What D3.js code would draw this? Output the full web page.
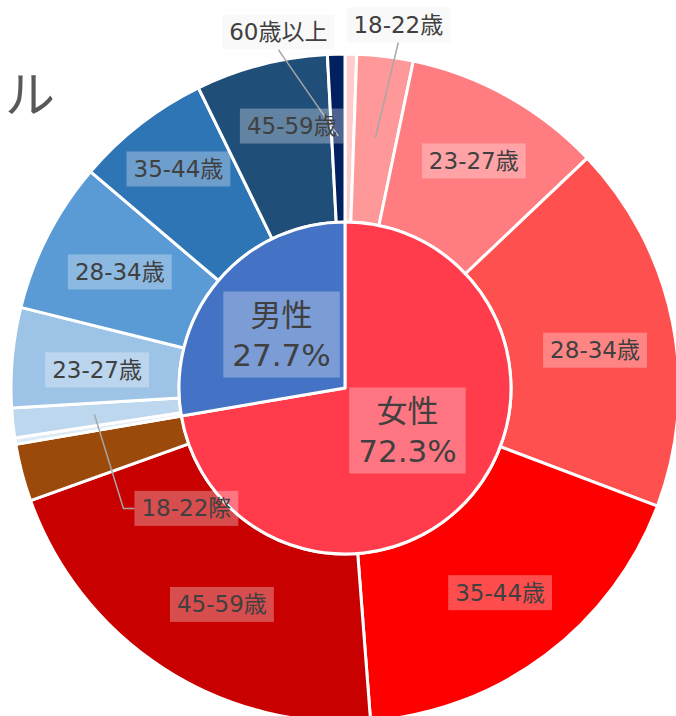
<!DOCTYPE html>
<html><head><meta charset="utf-8">
<script src="https://cdn.jsdelivr.net/npm/d3@7"></script>
<style>body{margin:0;background:#fff;overflow:hidden}</style>
</head><body><svg id="chart" width="676" height="716"></svg>
<script>
// ---- data ----
const genders = ["女性", "男性"];
const genderShares = [72.3, 27.7];
const genderColors = ["#FF3B4C", "#4472C4"];

const ageGroups = ["18歳未満", "18-22歳", "23-27歳", "28-34歳", "35-44歳", "45-59歳", "60歳以上"];
const femaleShares = [0.56, 2.72, 9.64, 17.83, 18.03, 20.75, 2.77];
const maleShares = [0.31, 1.44, 4.83, 7.33, 6.56, 6.39, 0.84];
const femaleColors = ["#FFCCCC", "#FF9999", "#FF7C80", "#FF5050", "#FF0000", "#C80000", "#9C4A0C"];
const maleColors = ["#DEEBF7", "#BDD7EE", "#9DC3E6", "#5B9BD5", "#2E75B6", "#1F4E79", "#002060"];
const femaleLabels = ["", "18-22歳", "23-27歳", "28-34歳", "35-44歳", "45-59歳", ""];
const maleLabels = ["", "18-22際", "23-27歳", "28-34歳", "35-44歳", "45-59歳", "60歳以上"];

// ---- layout (label nudges relative to arc centroids) ----
const femaleNudge = [null, [23, -113], [6, -7], [3, 12], [4, 3], [14, 5], null];
const maleNudge = [null, [92, 94], [3, 5], [-1, -1], [-12, -20], [10, -18], [-60, -104]];
const femaleLeader = [false, "straight", false, false, false, false, false];
const maleLeader = [false, "elbow", false, false, false, false, "straight"];
const genderNudge = [[-1, -11], [0, 0]];

const W = 676, H = 716;
const cx = 345, cy = 388;
const rInner = 166, rOuter = 334, rLabel = 252;
const textColor = "#404040";
const font = "'DejaVu Sans','Noto Sans CJK JP',sans-serif";

const svg = d3.select("#chart");

// title fragment (clipped at left edge)
svg.append("text")
  .attr("x", 55).attr("y", 91)
  .attr("text-anchor", "end")
  .attr("dominant-baseline", "central")
  .attr("font-family", "'Noto Sans CJK JP',sans-serif")
  .attr("font-size", 50)
  .attr("fill", "#595959")
  .text("ル");

const g = svg.append("g").attr("transform", `translate(${cx},${cy})`);

// outer ring data
const outerData = [];
femaleShares.forEach((v, i) => outerData.push({ v, color: femaleColors[i], label: femaleLabels[i], nudge: femaleNudge[i], leader: femaleLeader[i], age: ageGroups[i], gender: genders[0] }));
maleShares.forEach((v, i) => outerData.push({ v, color: maleColors[i], label: maleLabels[i], nudge: maleNudge[i], leader: maleLeader[i], age: ageGroups[i], gender: genders[1] }));

const pie = d3.pie().sort(null).value(d => d.v);
const outerArcs = pie(outerData);
const innerArcs = pie(genderShares.map((v, i) => ({ v, name: genders[i], color: genderColors[i], nudge: genderNudge[i] })));

const arcOuter = d3.arc().innerRadius(rInner).outerRadius(rOuter);
const arcInner = d3.arc().innerRadius(0).outerRadius(rInner);
const arcLabel = d3.arc().innerRadius(rLabel).outerRadius(rLabel);

g.selectAll("path.outer").data(outerArcs).join("path")
  .attr("class", "outer")
  .attr("d", arcOuter)
  .attr("fill", d => d.data.color)
  .attr("stroke", "#fff").attr("stroke-width", 3).attr("stroke-linejoin", "round");

g.selectAll("path.inner").data(innerArcs).join("path")
  .attr("class", "inner")
  .attr("d", arcInner)
  .attr("fill", d => d.data.color)
  .attr("stroke", "#fff").attr("stroke-width", 3).attr("stroke-linejoin", "round");

function addLabel(parent, lines, x, y, size, lineH, bg, padX, padY) {
  const lg = parent.append("g");
  const rect = lg.append("rect").attr("fill", bg);
  const t = lg.append("text")
    .attr("font-family", font)
    .attr("font-size", size)
    .attr("fill", textColor)
    .attr("text-anchor", "middle");
  const n = lines.length;
  lines.forEach((s, i) => {
    t.append("tspan").attr("x", x)
      .attr("y", y + (i - (n - 1) / 2) * lineH)
      .attr("dominant-baseline", "central")
      .text(s);
  });
  const bb = t.node().getBBox();
  rect.attr("x", bb.x - padX).attr("y", y - (n * lineH) / 2 - padY)
    .attr("width", bb.width + 2 * padX).attr("height", n * lineH + 2 * padY);
  return { x: bb.x - padX, y: y - (n * lineH) / 2 - padY, w: bb.width + 2 * padX, h: n * lineH + 2 * padY };
}

const labelLayer = g.append("g");
const lineLayer = g.insert("g", () => labelLayer.node());

outerArcs.forEach(d => {
  if (!d.data.label) return;
  const [px, py] = arcLabel.centroid(d);
  const x = px + d.data.nudge[0], y = py + d.data.nudge[1];
  const outside = d.data.leader === "straight";
  const box = addLabel(labelLayer, [d.data.label], x, y, 23, 27, outside ? "rgba(242,242,242,0.45)" : "rgba(255,255,255,0.3)", 7, 4);
  if (d.data.leader === "straight") {
    lineLayer.append("line")
      .attr("x1", x).attr("y1", box.y + box.h)
      .attr("x2", px).attr("y2", py)
      .attr("stroke", "#A6A6A6").attr("stroke-width", 1.5);
  } else if (d.data.leader === "elbow") {
    labelLayer.insert("polyline", ":first-child")
      .attr("points", `${px},${py} ${box.x - 11},${y} ${box.x},${y}`)
      .attr("fill", "none")
      .attr("stroke", "#A6A6A6").attr("stroke-width", 1.5);
  }
});

innerArcs.forEach(d => {
  const [px, py] = arcInner.centroid(d);
  addLabel(labelLayer, [d.data.name, d.data.v.toFixed(1) + "%"], px + d.data.nudge[0], py + d.data.nudge[1], 31, 40, "rgba(255,255,255,0.3)", 9, 3);
});
</script>
</body></html>
